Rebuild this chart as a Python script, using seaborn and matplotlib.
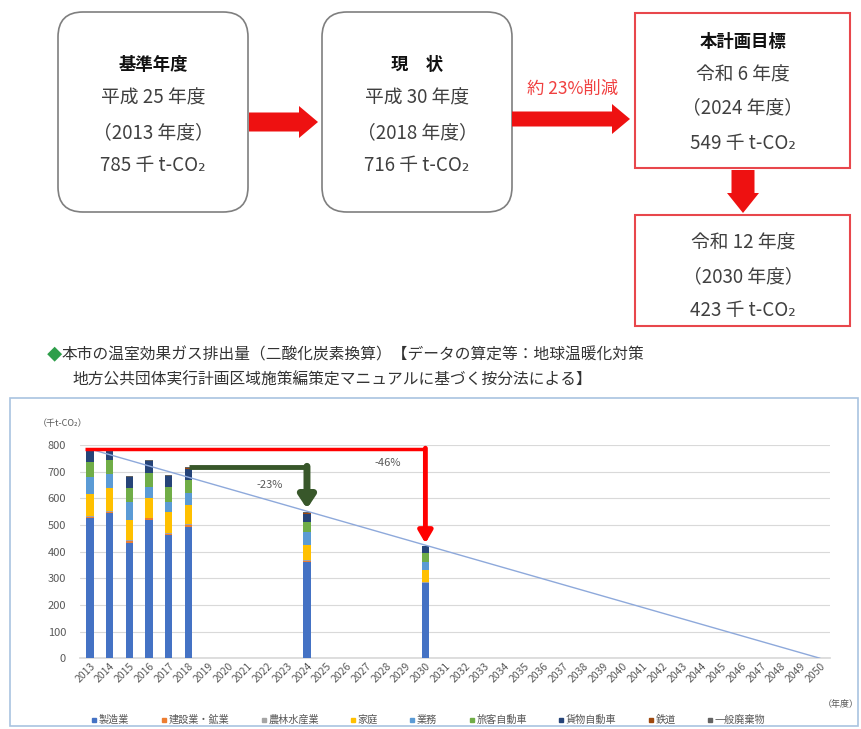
import numpy as np
import pandas as pd
import matplotlib.pyplot as plt
import seaborn as sns
from matplotlib.patches import FancyBboxPatch, Rectangle, FancyArrow
from matplotlib.lines import Line2D

sns.set_theme(style="white")
plt.rcParams["font.family"] = ["Noto Sans CJK JP", "DejaVu Sans"]

# datos del gráfico (千t-CO2)
years_all = list(range(2013, 2051))
data_years = [2013, 2014, 2015, 2016, 2017, 2018, 2024, 2030]

sectors = ["製造業", "建設業・鉱業", "農林水産業", "家庭", "業務",
           "旅客自動車", "貨物自動車", "鉄道", "一般廃棄物"]
colors = ["#4472C4", "#ED7D31", "#A5A5A5", "#FFC000", "#5B9BD5",
          "#70AD47", "#264478", "#9E480E", "#636363"]

seizou = [525, 544, 434, 519, 462, 494, 362, 281]
kensetsu = [6, 6, 5, 6, 5, 5, 4, 3]
nourin = [3, 3, 3, 3, 3, 3, 2, 2]
katei = [81, 87, 77, 72, 80, 73, 57, 45]
gyomu = [66, 50, 68, 44, 37, 44, 50, 31]
ryokaku = [56, 54, 50, 50, 54, 50, 37, 32]
kamotsu = [42, 40, 42, 45, 41, 41, 30, 26]
tetsudo = [2, 2, 2, 2, 2, 2, 2, 1]
haiki = [4, 4, 4, 4, 4, 4, 5, 2]

base_total = 785   # 2013
now_total = 716    # 2018
target_2024 = 549
target_2030 = 423
zero_year = 2050

df = pd.DataFrame({
    "year": [str(y) for y in data_years],
    "製造業": seizou, "建設業・鉱業": kensetsu, "農林水産業": nourin,
    "家庭": katei, "業務": gyomu, "旅客自動車": ryokaku,
    "貨物自動車": kamotsu, "鉄道": tetsudo, "一般廃棄物": haiki,
})
cum = df[sectors].cumsum(axis=1)
order = [str(y) for y in years_all]

fig = plt.figure(figsize=(8.61, 7.29), dpi=100)

# ---- diagrama superior (coordenadas en píxeles) ----
axf = fig.add_axes([0, 0, 1, 1])
axf.set_xlim(0, 861)
axf.set_ylim(729, 0)
axf.axis("off")

gray_edge = "#7F7F7F"
red = "#FF0000"
txt = "#404040"

for x0, x1 in [(58, 248), (322, 512)]:
    axf.add_patch(FancyBboxPatch((x0 + 25, 12 + 25), x1 - x0 - 50, 200 - 50,
                                 boxstyle="round,pad=25", fc="white", ec=gray_edge, lw=1.2))
axf.add_patch(Rectangle((635, 13), 215, 155, fc="white", ec="#E8474C", lw=1.5))
axf.add_patch(Rectangle((635, 215), 215, 111, fc="white", ec="#E8474C", lw=1.5))

axf.add_patch(FancyArrow(249, 122, 50, 0, width=19, head_width=32, head_length=19,
                         length_includes_head=False, color="#EE1111", lw=0))
axf.add_patch(FancyArrow(512, 119, 100, 0, width=15, head_width=30, head_length=18,
                         length_includes_head=False, color="#EE1111", lw=0))
axf.add_patch(FancyArrow(743, 170, 0, 23, width=23, head_width=32, head_length=20,
                         length_includes_head=False, color="#EE1111", lw=0))

fs = 13.5
box_texts = [
    (153, [("基準年度", 65, True), ("平成 25 年度", 98, False),
           ("（2013 年度）", 133, False), ("785 千 t-CO₂", 165, False)]),
    (417, [("現　状", 65, True), ("平成 30 年度", 98, False),
           ("（2018 年度）", 133, False), ("716 千 t-CO₂", 165, False)]),
    (743, [("本計画目標", 42, True), ("令和 6 年度", 75, False),
           ("（2024 年度）", 108, False), ("549 千 t-CO₂", 143, False)]),
    (743, [("令和 12 年度", 243, False), ("（2030 年度）", 277, False),
           ("423 千 t-CO₂", 310, False)]),
]
for xc, lines in box_texts:
    for s, yc, bold in lines:
        axf.text(xc, yc, s, ha="center", va="center", fontsize=fs if not bold else 12.5,
                 fontweight="bold" if bold else "normal", color="#111111" if bold else txt)

axf.text(573, 89, "約 23%削減", ha="center", va="center", fontsize=12.5, color="#F04040")

# título del gráfico
axf.text(47, 355, "◆", ha="left", va="center", fontsize=11, color="#2E9E4A")
axf.text(62, 355, "本市の温室効果ガス排出量（二酸化炭素換算）【データの算定等：地球温暖化対策",
         ha="left", va="center", fontsize=11.3, color="#333333")
axf.text(72, 380, "地方公共団体実行計画区域施策編策定マニュアルに基づく按分法による】",
         ha="left", va="center", fontsize=11.3, color="#333333")

# marco del gráfico
axf.add_patch(Rectangle((10, 398), 848, 328, fc="white", ec="#A9C4E0", lw=1.2))
axf.text(38, 423, "（千t-CO₂）", ha="left", va="center", fontsize=6.5, color="#595959")
axf.text(841, 705, "（年度）", ha="center", va="center", fontsize=6.5, color="#595959")

# ---- gráfico de barras apiladas ----
ax = fig.add_axes([80 / 861, 1 - 658.3 / 729, 750 / 861, (658.3 - 445) / 729])
ax.set_facecolor("white")

for s, c in reversed(list(zip(sectors, colors))):
    sns.barplot(x=df["year"], y=cum[s], order=order, color=c, width=0.37,
                errorbar=None, saturation=1, linewidth=0, ax=ax, zorder=3, label=s)

ax.set_xlim(-0.5, len(years_all) - 0.5)
ax.set_ylim(0, 800)
ax.set_yticks(np.arange(0, 801, 100))
ax.grid(axis="y", color="#D9D9D9", lw=0.8, zorder=0)
ax.set_axisbelow(True)
for sp in ["top", "right", "left"]:
    ax.spines[sp].set_visible(False)
ax.spines["bottom"].set_color("#D9D9D9")
ax.set_xlabel("")
ax.set_ylabel("")
ax.tick_params(axis="y", labelsize=8, colors="#595959", length=0, pad=10)
ax.tick_params(axis="x", labelsize=7.5, colors="#595959", length=0, pad=2)
ax.set_xticks(range(len(years_all)))
ax.set_xticklabels(order, rotation=45, ha="right", rotation_mode="anchor")
if ax.get_legend() is not None:
    ax.get_legend().remove()

i13 = years_all.index(2013)
i18 = years_all.index(2018)
i24 = years_all.index(2024)
i30 = years_all.index(2030)
i50 = years_all.index(zero_year)

# línea de tendencia hacia 2050
ax.plot([i13, i50], [base_total, 0], color="#8EA9DB", lw=1.0, zorder=4)

# -46%
ax.plot([i13 - 0.25, i30], [base_total, base_total], color=red, lw=2.5, zorder=5,
        solid_capstyle="butt")
ax.annotate("", xy=(i30, target_2030 + 8), xytext=(i30, base_total + 3),
            arrowprops=dict(arrowstyle="-|>,head_length=0.6,head_width=0.35", color=red,
                            lw=3.5, shrinkA=0, shrinkB=0), zorder=5)
# -23%
green = "#38572A"
ax.plot([i18, i24], [now_total, now_total], color=green, lw=3.5, zorder=5,
        solid_capstyle="butt")
ax.annotate("", xy=(i24, target_2024 + 12), xytext=(i24, now_total + 4),
            arrowprops=dict(arrowstyle="-|>,head_length=0.6,head_width=0.4", color=green,
                            lw=5, shrinkA=0, shrinkB=0), zorder=5)

ax.text(9.1, 650, "-23%", ha="center", va="center", fontsize=8, color="#595959")
ax.text(15.1, 732, "-46%", ha="center", va="center", fontsize=8, color="#595959")

# leyenda
handles = [Line2D([], [], marker="s", ls="", color=c, markersize=3.5) for c in colors]
fig.legend(handles, sectors, loc="center", bbox_to_anchor=(0.497, 1 - 720 / 729),
           ncol=9, frameon=False, fontsize=7.3, labelcolor="#595959",
           handletextpad=0.05, columnspacing=3.0, handlelength=0.8)

plt.savefig("out.png", dpi=100)
